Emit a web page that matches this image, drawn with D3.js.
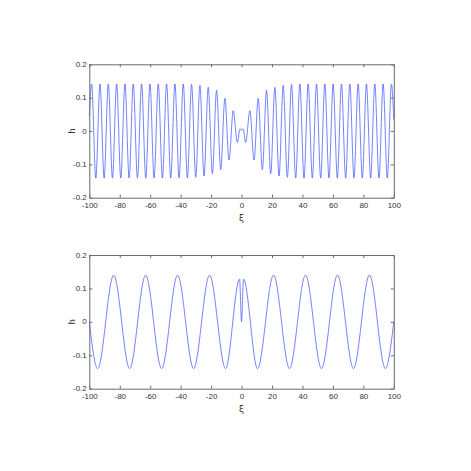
<!DOCTYPE html>
<html>
<head>
<meta charset="utf-8">
<script src="https://cdn.jsdelivr.net/npm/d3@7"></script>
<style>
  html, body { margin: 0; padding: 0; background: #fff; }
  svg { display: block; }
  .tick text { font-family: "Liberation Sans Narrow", "Liberation Sans", Arial, sans-serif; font-size: 8px; fill: #333; }
</style>
</head>
<body>
<svg id="chart" width="471" height="471"></svg>
<script>
// ---- data ----
// top panel: extrema of the short-wave profile h(ξ)
const topXi = [-100, -98.46, -95.73, -92.99, -90.26, -87.52, -84.79, -82.05, -79.32, -76.58, -73.85,
  -71.11, -68.38, -65.64, -62.91, -60.17, -57.44, -54.70, -51.97, -49.23, -46.50, -43.76, -41.03,
  -38.29, -35.56, -32.82, -30.09, -27.35, -24.62, -21.88, -19.15, -16.41, -13.68, -10.94, -8.21,
  -5.47, -2.74, -1.0, 0, 1.0, 2.74, 5.47, 8.21, 10.94, 13.68, 16.41, 19.15, 21.88, 24.62, 27.35,
  30.09, 32.82, 35.56, 38.29, 41.03, 43.76, 46.50, 49.23, 51.97, 54.70, 57.44, 60.17, 62.91, 65.64,
  68.38, 71.11, 73.85, 76.58, 79.32, 82.05, 84.79, 87.52, 90.26, 92.99, 95.73, 98.46, 100];
const topH = [0.045, 0.141, -0.141, 0.141, -0.141, 0.141, -0.141, 0.141, -0.141, 0.141, -0.141,
  0.141, -0.141, 0.141, -0.141, 0.141, -0.141, 0.141, -0.141, 0.141, -0.141, 0.141, -0.141,
  0.141, -0.141, 0.140, -0.139, 0.137, -0.135, 0.131, -0.128, 0.122, -0.116, 0.098, -0.087,
  0.061, -0.034, 0.007, 0.002, 0.007, -0.034, 0.061, -0.087, 0.098, -0.116, 0.122, -0.128, 0.131, -0.135, 0.137,
  -0.139, 0.140, -0.141, 0.141, -0.141, 0.141, -0.141, 0.141, -0.141, 0.141, -0.141, 0.141, -0.141, 0.141,
  -0.141, 0.141, -0.141, 0.141, -0.141, 0.141, -0.141, 0.141, -0.141, 0.141, -0.141, 0.141, 0.035];
// bottom panel: extrema of the long-wave profile h(ξ)
const bottomXi = [-100, -94.5, -84, -73.5, -63, -52.5, -42, -31.5, -21, -10.5, -1.3, 0, 1.3,
  10.5, 21, 31.5, 42, 52.5, 63, 73.5, 84, 94.5, 100];
const bottomH = [0, -0.14, 0.14, -0.14, 0.14, -0.14, 0.14, -0.14, 0.14, -0.14, 0.128, 0.0, 0.128,
  -0.14, 0.14, -0.14, 0.14, -0.14, 0.14, -0.14, 0.14, -0.14, 0];
const xTicks = [-100, -80, -60, -40, -20, 0, 20, 40, 60, 80, 100];
const xTickLabels = ["-100", "-80", "-60", "-40", "-20", "0", "20", "40", "60", "80", "100"];
const yTicks = [-0.2, -0.1, 0, 0.1, 0.2];
const yTickLabels = ["-0.2", "-0.1", "0", "0.1", "0.2"];
const xLabel = "ξ";
const yLabel = "h";

// ---- drawing ----
const svg = d3.select("#chart");
const left = 89.3, right = 393.8;
const panels = [
  { top: 64.3, bottom: 197.7, xi: topXi, h: topH },
  { top: 255.0, bottom: 388.7, xi: bottomXi, h: bottomH }
];
const axisColor = "#6a6a6a";
const lineColor = "rgb(80,100,255)";

panels.forEach(p => {
  const x = d3.scaleLinear().domain([-100, 100]).range([left, right]);
  const y = d3.scaleLinear().domain([-0.2, 0.2]).range([p.bottom, p.top]);
  const g = svg.append("g");

  // curve
  const pts = p.xi.map((v, i) => [v, p.h[i]]);
  const line = d3.line().x(d => x(d[0])).y(d => y(d[1])).curve(d3.curveMonotoneX);
  g.append("path").datum(pts)
    .attr("d", line)
    .attr("fill", "none")
    .attr("stroke", lineColor)
    .attr("stroke-width", 0.8);

  const fmtX = d => xTickLabels[xTicks.indexOf(d)];
  const fmtY = d => yTickLabels[yTicks.findIndex(t => Math.abs(t - d) < 1e-9)];

  const ax = g.append("g").attr("transform", `translate(0,${p.bottom})`)
    .call(d3.axisBottom(x).tickValues(xTicks).tickFormat(fmtX).tickSizeInner(-3).tickSizeOuter(0).tickPadding(5));
  const ay = g.append("g").attr("transform", `translate(${left},0)`)
    .call(d3.axisLeft(y).tickValues(yTicks).tickFormat(fmtY).tickSizeInner(-3).tickSizeOuter(0).tickPadding(2.5));
  const at = g.append("g").attr("transform", `translate(0,${p.top})`)
    .call(d3.axisTop(x).tickValues(xTicks).tickFormat("").tickSizeInner(-3).tickSizeOuter(0));
  const ar = g.append("g").attr("transform", `translate(${right},0)`)
    .call(d3.axisRight(y).tickValues(yTicks).tickFormat("").tickSizeInner(-3).tickSizeOuter(0));
  [ax, ay, at, ar].forEach(a => {
    a.select(".domain").attr("stroke", axisColor);
    a.selectAll(".tick line").attr("stroke", axisColor);
  });
  ay.selectAll(".tick text").attr("dy", "0.25em");

  // labels
  g.append("text")
    .attr("x", (left + right) / 2).attr("y", p.bottom + 23)
    .attr("text-anchor", "middle")
    .attr("font-family", "DejaVu Sans, sans-serif").attr("font-size", 9).attr("fill", "#333")
    .text(xLabel);
  g.append("text")
    .attr("transform", `translate(${left - 14},${(p.top + p.bottom) / 2}) rotate(-90)`)
    .attr("text-anchor", "middle")
    .attr("font-family", "Liberation Sans, Arial, sans-serif").attr("font-size", 9).attr("fill", "#333")
    .text(yLabel);
});
</script>
</body>
</html>
